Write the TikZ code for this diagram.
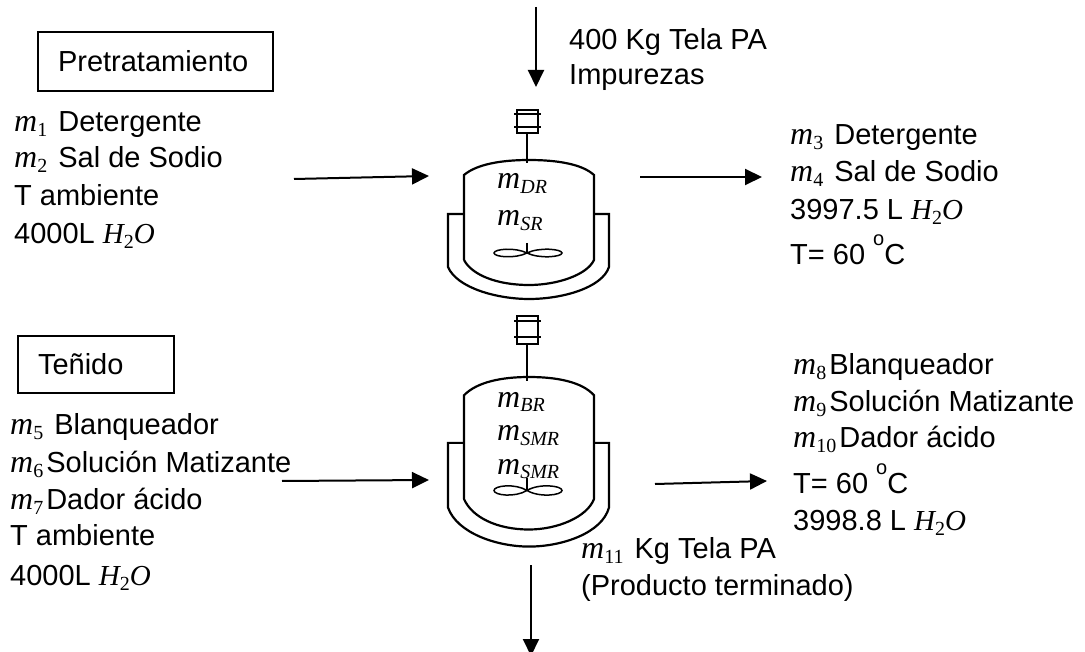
\documentclass[tikz,border=0pt]{standalone}
\usepackage{fontspec}
\setmainfont{Liberation Sans}
\newfontfamily\mate{Liberation Serif}
\usetikzlibrary{arrows.meta}
\newcommand{\subind}[1]{\raisebox{-5pt}{\fontsize{20}{20}\selectfont #1}}
\newcommand{\letram}{{\fontsize{32}{32}\selectfont m}}
\newcommand{\mas}[1]{{\mate\itshape\letram\subind{\upshape #1}\kern3pt}}
\newcommand{\masr}[1]{{\mate\itshape\letram\subind{#1}}}
\newcommand{\agua}{{\mate\itshape H\subind{\upshape 2}O}}
\newcommand{\grados}{\raisebox{19pt}{\fontsize{20}{20}\selectfont o}}
\tikzset{
  linea/.style={line width=2.2pt},
  flecha/.style={line width=2pt,-{Triangle[length=17pt,width=16pt]}},
  caja/.style={draw,line width=1.5pt,inner ysep=0pt,inner xsep=20pt,align=left,font=\fontsize{29}{32}\selectfont},
  texto/.style={anchor=base west,inner sep=0pt,font=\fontsize{29}{32}\selectfont},
  reactor/.pic={
    \draw[linea] (-10,-50) rectangle (11,-27);
    \draw[linea] (-13,-46) -- (14,-46);
    \draw[linea] (-13,-33) -- (14,-33);
    \draw[linea] (0,-27) -- (0,3);
    \draw[linea] (-63,100) -- (-63,15) .. controls (-50,4) and (-25,0) .. (2,0) .. controls (30,0) and (55,4) .. (67,15) -- (67,100) .. controls (60,115) and (30,125) .. (2,125) .. controls (-30,125) and (-55,115) .. (-63,100);
    \draw[linea] (-63,54) -- (-79,54) -- (-79,107) .. controls (-70,128) and (-30,139) .. (2,139) .. controls (35,139) and (75,128) .. (82,107) -- (82,54) -- (67,54);
    \draw[line width=1.5pt] (0,93) .. controls (-12,87) and (-33,89) .. (-33,93) .. controls (-33,97) and (-12,99) .. (0,93) .. controls (12,87) and (35,89) .. (35,93) .. controls (35,97) and (12,99) .. (0,93);
    \draw[linea] (0,83) -- (0,93);
  }
}
\begin{document}
\begin{tikzpicture}[x=1pt,y=-1pt]
  \useasboundingbox (0,0) rectangle (1085,652);
  % reactores
  \pic at (527,160) {reactor};
  \pic[yscale=1.22] at (527,377) {reactor};
  % cajas
  \node (pretrat) [caja,minimum height=59pt,text width=195pt] at (155.5,61.5) {Pretratamiento};
  \node (tenido) [caja,minimum height=57pt,text width=116pt] at (96,364.5) {Teñido};
  % entrada superior
  \node (tela1) [texto] at (569,50) {400 Kg Tela PA};
  \node (tela2) [texto] at (569,85) {Impurezas};
  % entrada 1
  \node (ent1a) [texto] at (14,132) {\mas{1} Detergente};
  \node (ent1b) [texto] at (14,168) {\mas{2} Sal de Sodio};
  \node (ent1c) [texto] at (14,206) {T ambiente};
  \node (ent1d) [texto] at (14,244) {4000L \agua};
  % salida 1
  \node (sal1a) [texto] at (790,145) {\mas{3} Detergente};
  \node (sal1b) [texto] at (790,182) {\mas{4} Sal de Sodio};
  \node (sal1c) [texto] at (790,220) {3997.5 L \agua};
  \node (sal1d) [texto] at (790,265) {T= 60 \grados C};
  % entrada 2
  \node (ent2a) [texto] at (10,435) {\mas{5} Blanqueador};
  \node (ent2b) [texto] at (10,472) {\mas{6}Solución Matizante};
  \node (ent2c) [texto] at (10,509) {\mas{7}Dador ácido};
  \node (ent2d) [texto] at (10,545) {T ambiente};
  \node (ent2e) [texto] at (10,585) {4000L \agua};
  % salida 2
  \node (sal2a) [texto] at (793,375) {\mas{8}Blanqueador};
  \node (sal2b) [texto] at (793,412) {\mas{9}Solución Matizante};
  \node (sal2c) [texto] at (793,447) {\mas{10}Dador ácido};
  \node (sal2d) [texto] at (793,493) {T= 60 \grados C};
  \node (sal2e) [texto] at (793,530) {3998.8 L \agua};
  % producto
  \node (prod1) [texto] at (581,558) {\mas{11} Kg Tela PA};
  \node (prod2) [texto] at (581,595) {(Producto terminado)};
  % masas en los reactores
  \node (mdr) [texto] at (497,189) {\masr{DR}};
  \node (msr) [texto] at (497,226) {\masr{SR}};
  \node (mbr) [texto] at (497,407) {\masr{BR}};
  \node (msmra) [texto] at (497,440) {\masr{SMR}};
  \node (msmrb) [texto] at (497,474) {\masr{SMR}};
  % flechas
  \coordinate (a1) at (536,7);   \coordinate (a2) at (536,87);
  \coordinate (b1) at (294,179); \coordinate (b2) at (429,176);
  \coordinate (c1) at (640,177); \coordinate (c2) at (762,177);
  \coordinate (d1) at (282,481); \coordinate (d2) at (429,480);
  \coordinate (e1) at (655,484); \coordinate (e2) at (767,481);
  \coordinate (f1) at (531,565); \coordinate (f2) at (531,656);
  \draw[flecha] (a1) -- (a2);
  \draw[flecha] (b1) -- (b2);
  \draw[flecha] (c1) -- (c2);
  \draw[flecha] (d1) -- (d2);
  \draw[flecha] (e1) -- (e2);
  \draw[flecha] (f1) -- (f2);
\end{tikzpicture}
\end{document}
